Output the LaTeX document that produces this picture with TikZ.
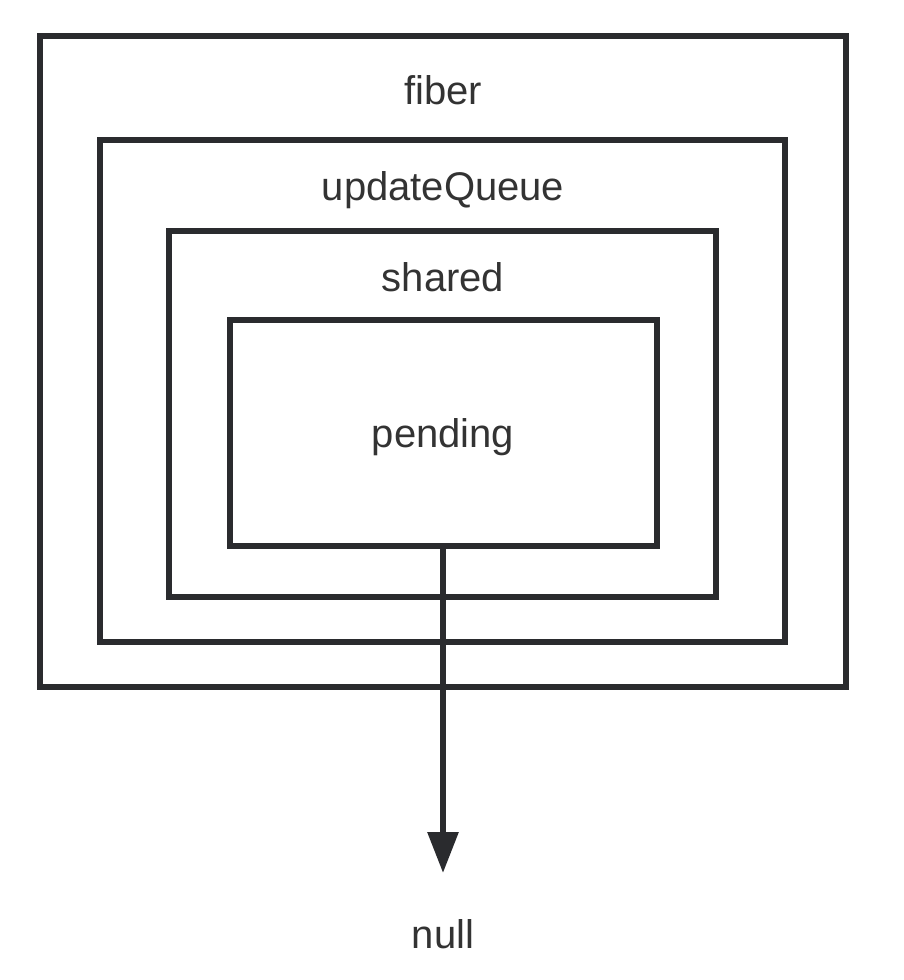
\documentclass[tikz,border=0pt]{standalone}
\usepackage{fontspec}
\setmainfont{Liberation Sans}
\usetikzlibrary{arrows.meta}
\definecolor{ink}{HTML}{2A2B2E}
\definecolor{txt}{HTML}{333333}
\begin{document}
\begin{tikzpicture}[x=1pt,y=-1pt,
  box/.style={draw=ink,line width=6pt,inner sep=0pt,outer sep=0pt},
  lbl/.style={text=txt,font=\fontsize{40}{44}\selectfont,anchor=base,inner sep=0pt}]
\useasboundingbox (0,0) rectangle (904,980);
\node[box,minimum width=806pt,minimum height=651pt] (fiber) at (443,361.5) {};
\node[box,minimum width=685pt,minimum height=502pt] (uq) at (442.5,391) {};
\node[box,minimum width=547pt,minimum height=366pt] (shared) at (442.5,414) {};
\node[box,minimum width=427pt,minimum height=226pt] (pending) at (443.5,433) {};
\node[lbl] (tfiber) at (443,104) {fiber};
\node[lbl] (tuq) at (443,200) {updateQueue};
\node[lbl] (tshared) at (443,291) {shared};
\node[lbl] (tpending) at (443,447) {pending};
\node[lbl] (tnull) at (443,948) {null};
\coordinate (tip) at (443,873);
\draw[ink,line width=6pt,-{Triangle[width=30pt,length=41pt]}] (pending.south -| tip) -- (tip);
\end{tikzpicture}
\end{document}
